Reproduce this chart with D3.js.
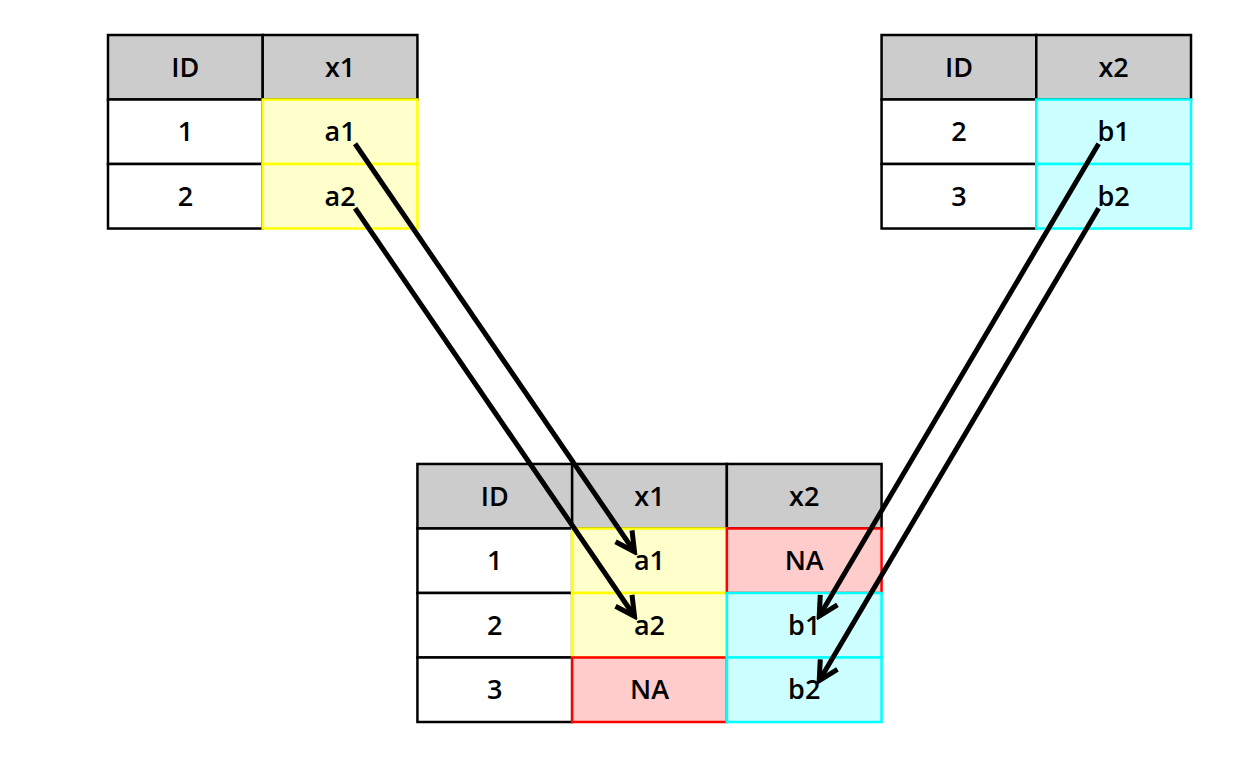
<!DOCTYPE html>
<html>
<head>
<meta charset="utf-8">
<script src="https://cdn.jsdelivr.net/npm/d3@7"></script>
<style>
  body { margin: 0; background: #fff; }
  text { font-family: "Comic Sans MS", "Open Sans", "DejaVu Sans", sans-serif; font-weight: 600; }
</style>
</head>
<body>
<script>
// table contents
const leftCols = ["ID", "x1"];
const leftIds = ["1", "2"];
const leftX1 = ["a1", "a2"];

const rightCols = ["ID", "x2"];
const rightIds = ["2", "3"];
const rightX2 = ["b1", "b2"];

const mergedCols = ["ID", "x1", "x2"];
const mergedIds = ["1", "2", "3"];
const mergedX1 = ["a1", "a2", "NA"];
const mergedX2 = ["NA", "b1", "b2"];

const width = 1248, height = 768;

// grid units: one column = one cell wide, one row = one cell high
const x = d3.scaleLinear().domain([0, 7]).range([108, 1191]);
const y = d3.scaleLinear().domain([0, 10.65]).range([35, 722]);

const svg = d3.select("body").append("svg")
    .attr("width", width)
    .attr("height", height);

// where each table sits in the grid
const tables = [
    {name: "left", col: 0, row: 0, cols: leftCols, columns: [leftIds, leftX1]},
    {name: "right", col: 5, row: 0, cols: rightCols, columns: [rightIds, rightX2]},
    {name: "merged", col: 2, row: 6.65, cols: mergedCols, columns: [mergedIds, mergedX1, mergedX2]}
];

function cellStyle(v, header) {
    if (header) return {fill: "#cccccc", stroke: "#000"};
    if (v === "NA") return {fill: "#ffcccc", stroke: "#ff0000"};
    if (v[0] === "a") return {fill: "#ffffcc", stroke: "#ffff00"};
    if (v[0] === "b") return {fill: "#ccffff", stroke: "#00ffff"};
    return {fill: "#ffffff", stroke: "#000"};
}

// flatten into cells
const cells = [];
tables.forEach(t => {
    t.cols.forEach((c, j) => {
        cells.push({t: t.name, c: t.col + j, r: t.row, v: c, header: true});
        t.columns[j].forEach((v, i) => {
            cells.push({t: t.name, c: t.col + j, r: t.row + 1 + i, v: v, header: false});
        });
    });
});
cells.forEach(d => d.s = cellStyle(d.v, d.header));
// black-bordered cells first so coloured borders sit on top
cells.sort((a, b) => (a.s.stroke === "#000" ? 0 : 1) - (b.s.stroke === "#000" ? 0 : 1));

const cell = svg.append("g").selectAll("g")
    .data(cells)
    .join("g");

cell.append("rect")
    .attr("x", d => x(d.c))
    .attr("y", d => y(d.r))
    .attr("width", x(1) - x(0))
    .attr("height", y(1) - y(0))
    .attr("fill", d => d.s.fill)
    .attr("stroke", d => d.s.stroke)
    .attr("stroke-width", 2.5);

cell.append("text")
    .attr("x", d => x(d.c + 0.5))
    .attr("y", d => y(d.r + 0.5))
    .attr("dy", "0.36em")
    .attr("text-anchor", "middle")
    .attr("font-size", 27)
    .text(d => d.v);

// arrows: each source value goes to the merged row with the same ID
const merged = tables[2];
const arrows = [];
leftIds.forEach((id, i) => {
    const k = mergedIds.indexOf(id);
    arrows.push({c0: 0 + 1.5, r0: 1.5 + i, c1: merged.col + 1.5, r1: merged.row + 1.5 + k, side: 1});
});
rightIds.forEach((id, i) => {
    const k = mergedIds.indexOf(id);
    arrows.push({c0: 5 + 1.5, r0: 1.5 + i, c1: merged.col + 2.5, r1: merged.row + 1.5 + k, side: -1});
});

svg.append("defs").append("marker")
    .attr("id", "head")
    .attr("markerUnits", "userSpaceOnUse")
    .attr("viewBox", "-24 -14 28 28")
    .attr("refX", 0)
    .attr("refY", 0)
    .attr("markerWidth", 28)
    .attr("markerHeight", 28)
    .attr("orient", "auto")
    .append("path")
    .attr("d", "M-19,-10L0,0L-19,10")
    .attr("fill", "none")
    .attr("stroke", "#000")
    .attr("stroke-width", 5);

svg.append("g").selectAll("line")
    .data(arrows)
    .join("line")
    .attr("x1", d => x(d.c0) + d.side * 15)
    .attr("y1", d => y(d.r0) + 12)
    .attr("x2", d => x(d.c1) - d.side * 15)
    .attr("y2", d => y(d.r1) - 9)
    .attr("stroke", "#000")
    .attr("stroke-width", 5)
    .attr("marker-end", "url(#head)");
</script>
</body>
</html>
